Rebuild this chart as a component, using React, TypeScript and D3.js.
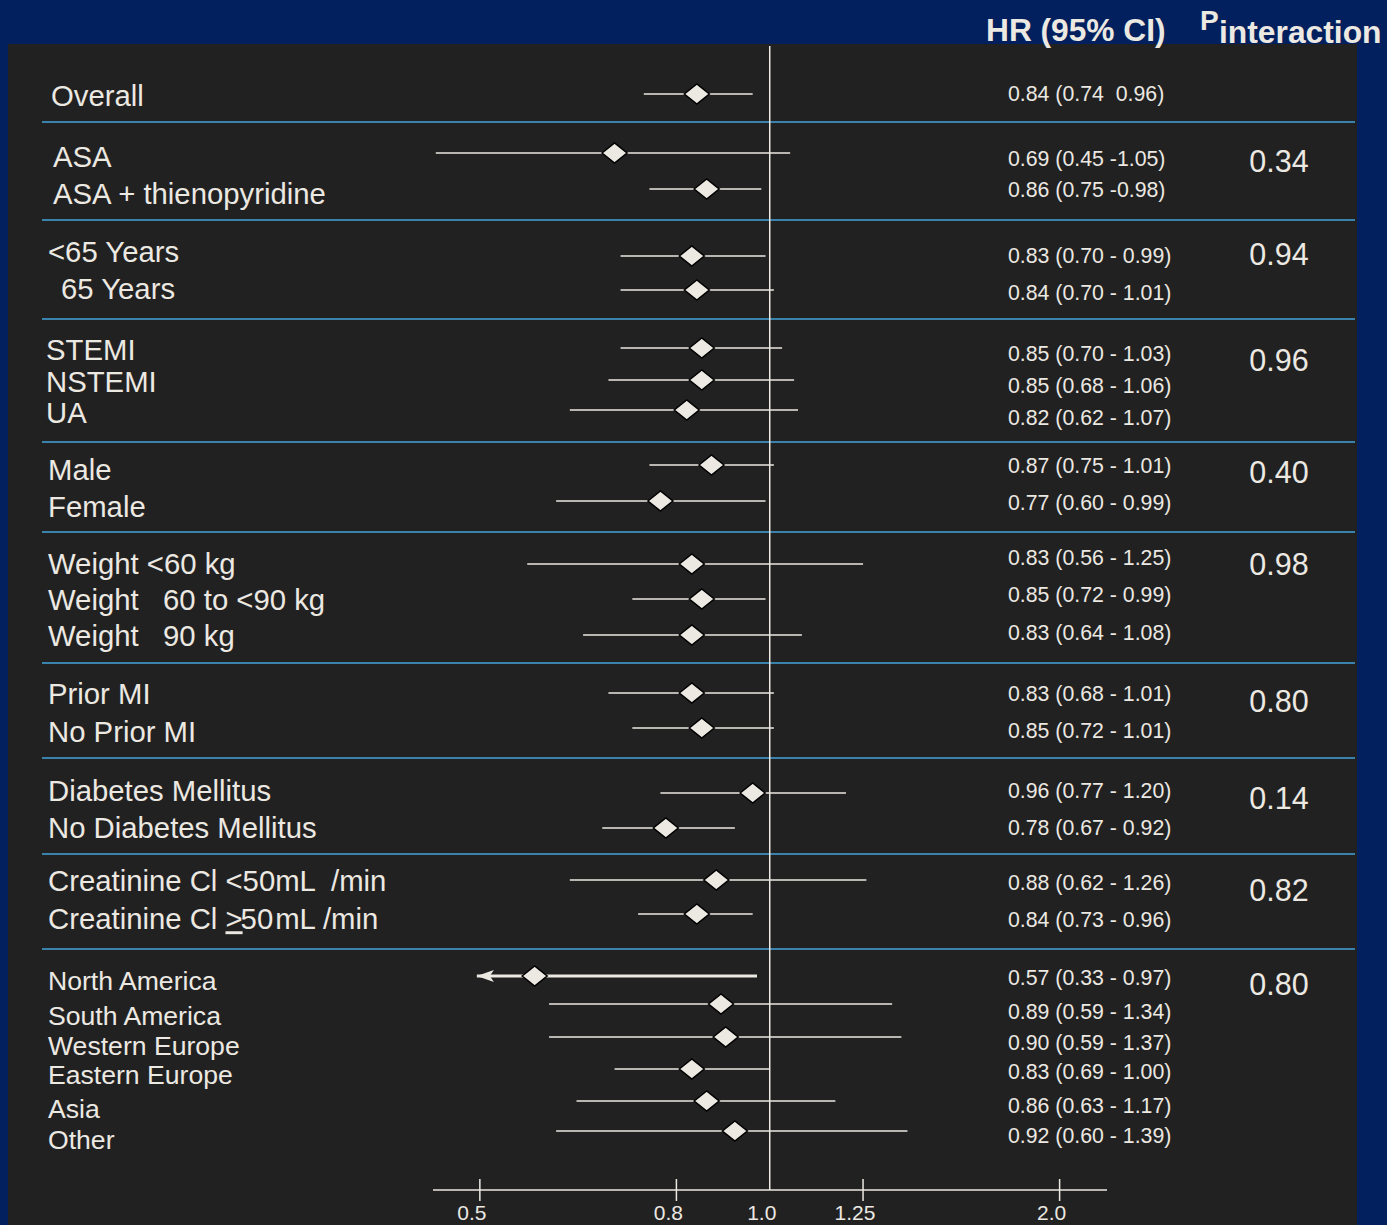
import React from "react";
import * as d3 from "d3";

// ---------- data ----------
const labels = [
  "Overall",
  "ASA",
  "ASA + thienopyridine",
  "<65 Years",
  "65 Years",
  "STEMI",
  "NSTEMI",
  "UA",
  "Male",
  "Female",
  "Weight <60 kg",
  "Weight   60 to <90 kg",
  "Weight   90 kg",
  "Prior MI",
  "No Prior MI",
  "Diabetes Mellitus",
  "No Diabetes Mellitus",
  "Creatinine Cl <50mL  /min",
  "Creatinine Cl ≥50 mL /min",
  "North America",
  "South America",
  "Western Europe",
  "Eastern Europe",
  "Asia",
  "Other",
];
const hr = [0.84, 0.69, 0.86, 0.83, 0.84, 0.85, 0.85, 0.82, 0.87, 0.77, 0.83, 0.85, 0.83, 0.83, 0.85, 0.96, 0.78, 0.88, 0.84, 0.57, 0.89, 0.90, 0.83, 0.86, 0.92];
const lo = [0.74, 0.45, 0.75, 0.70, 0.70, 0.70, 0.68, 0.62, 0.75, 0.60, 0.56, 0.72, 0.64, 0.68, 0.72, 0.77, 0.67, 0.62, 0.73, 0.33, 0.59, 0.59, 0.69, 0.63, 0.60];
const hi = [0.96, 1.05, 0.98, 0.99, 1.01, 1.03, 1.06, 1.07, 1.01, 0.99, 1.25, 0.99, 1.08, 1.01, 1.01, 1.20, 0.92, 1.26, 0.96, 0.97, 1.34, 1.37, 1.00, 1.17, 1.39];
const hrText = [
  "0.84 (0.74  0.96)",
  "0.69 (0.45 -1.05)",
  "0.86 (0.75 -0.98)",
  "0.83 (0.70 - 0.99)",
  "0.84 (0.70 - 1.01)",
  "0.85 (0.70 - 1.03)",
  "0.85 (0.68 - 1.06)",
  "0.82 (0.62 - 1.07)",
  "0.87 (0.75 - 1.01)",
  "0.77 (0.60 - 0.99)",
  "0.83 (0.56 - 1.25)",
  "0.85 (0.72 - 0.99)",
  "0.83 (0.64 - 1.08)",
  "0.83 (0.68 - 1.01)",
  "0.85 (0.72 - 1.01)",
  "0.96 (0.77 - 1.20)",
  "0.78 (0.67 - 0.92)",
  "0.88 (0.62 - 1.26)",
  "0.84 (0.73 - 0.96)",
  "0.57 (0.33 - 0.97)",
  "0.89 (0.59 - 1.34)",
  "0.90 (0.59 - 1.37)",
  "0.83 (0.69 - 1.00)",
  "0.86 (0.63 - 1.17)",
  "0.92 (0.60 - 1.39)",
];
const pValues = ["0.34", "0.94", "0.96", "0.40", "0.98", "0.80", "0.14", "0.82", "0.80"];
const tickValues = [0.5, 0.8, 1.0, 1.25, 2.0];
const tickLabels = ["0.5", "0.8", "1.0", "1.25", "2.0"];
const axisMin = 0.5; // arrow tip for intervals running off the axis
const domain = [0.447, 2.24];

// ---------- layout ----------
const W = 1387;
const H = 1225;
const rowY = [94, 153, 189, 256, 290, 348, 380, 410, 465, 501, 564, 599, 635, 693, 728, 793, 828, 880, 914, 976, 1004, 1037, 1069, 1101, 1131];
const labelY = [96, 157, 194, 252, 289, 350, 382, 413, 470, 507, 564, 600, 636, 694, 732, 791, 828, 881, 919, 981, 1016, 1046, 1075, 1109, 1140];
const textY = [94, 159, 190, 256, 293, 354, 386, 418, 466, 503, 558, 595, 633, 694, 731, 791, 828, 883, 920, 978, 1012, 1043, 1072, 1106, 1136];
const labelX = [51, 53, 53, 48, 61, 46, 46, 46, 48, 48, 48, 48, 48, 48, 48, 48, 48, 48, 48, 48, 48, 48, 48, 48, 48];
const pY = [161, 254, 360, 472, 564, 701, 798, 890, 984];
const sepY = [122, 220, 319, 442, 532, 663, 758, 854, 949];
const axisY = 1190;

const FG = "#ece8e2";
const FONT = "'Liberation Sans', Arial, sans-serif";

export default function App() {
  const x = d3.scaleLog().domain(domain).range([433, 1107]);
  const dHalfW = 12.5;
  const dHalfH = 10;
  const diamond = (cx: number, cy: number) =>
    `M${cx - dHalfW},${cy}L${cx},${cy - dHalfH}L${cx + dHalfW},${cy}L${cx},${cy + dHalfH}Z`;

  return (
    <svg
      width={W}
      height={H}
      style={{ position: "absolute", left: 0, top: 0, display: "block" }}
      fontFamily={FONT}
    >
      <rect x={0} y={0} width={W} height={H} fill="#02205e" />
      <rect x={8} y={44} width={1349} height={H - 44} fill="#212121" />

      {/* header */}
      <text x={986} y={41} fill={FG} fontSize={31.7} fontWeight="bold">
        HR (95% CI)
      </text>
      <text x={1200} y={30} fill={FG} fontSize={28} fontWeight="bold">
        P
      </text>
      <text x={1219} y={43} fill={FG} fontSize={31.8} fontWeight="bold">
        interaction
      </text>

      {/* separators */}
      {sepY.map((y, i) => (
        <line key={"s" + i} x1={42} x2={1355} y1={y} y2={y} stroke="#45a3dc" strokeWidth={1.3} />
      ))}

      {/* reference line */}
      <line x1={x(1)} x2={x(1)} y1={46} y2={axisY} stroke={FG} strokeWidth={1.5} />

      {/* axis */}
      <line x1={x.range()[0]} x2={x.range()[1]} y1={axisY} y2={axisY} stroke={FG} strokeWidth={1.5} />
      {tickValues.map((t, i) => (
        <g key={"t" + i}>
          {t !== 1 && (
            <line x1={x(t)} x2={x(t)} y1={axisY - 11} y2={axisY + 11} stroke={FG} strokeWidth={1.5} />
          )}
          <text x={x(t) - 8} y={1220} fill={FG} fontSize={21} textAnchor="middle">
            {tickLabels[i]}
          </text>
        </g>
      ))}

      {/* rows */}
      {labels.map((lab, i) => {
        const y = rowY[i];
        const clipped = lo[i] < domain[0];
        const x0 = clipped ? x(axisMin) - 3 : x(lo[i]);
        const x1 = x(hi[i]);
        const fs = i >= 19 ? 26.6 : 29.3;
        let labelNode: React.ReactNode = lab;
        if (lab.includes("≥")) {
          labelNode = (
            <>
              <tspan>Creatinine Cl </tspan>
              <tspan textDecoration="underline">&gt;</tspan>
              <tspan dx={-2}>50</tspan>
              <tspan dx={2}>mL /min</tspan>
            </>
          );
        }
        return (
          <g key={"r" + i}>
            <line x1={x0} x2={x1} y1={y} y2={y} stroke={FG} strokeWidth={clipped ? 3 : 1.5} />
            {clipped && (
              <path
                d={`M${x0},${y}L${x0 + 17},${y - 6}L${x0 + 13},${y}L${x0 + 17},${y + 6}Z`}
                fill={FG}
              />
            )}
            <path d={diamond(x(hr[i]), y)} fill={FG} stroke="#000" strokeWidth={1.5} />
            <text
              x={labelX[i]}
              y={labelY[i]}
              dy="0.35em"
              fill={FG}
              fontSize={fs}
              style={{ whiteSpace: "pre" }}
            >
              {labelNode}
            </text>
            <text x={1008} y={textY[i]} dy="0.35em" fill={FG} fontSize={21.3} style={{ whiteSpace: "pre" }}>
              {hrText[i]}
            </text>
          </g>
        );
      })}

      {/* p interaction */}
      {pValues.map((p, i) => (
        <text key={"p" + i} x={1279} y={pY[i]} dy="0.35em" fill={FG} fontSize={30.5} textAnchor="middle">
          {p}
        </text>
      ))}
    </svg>
  );
}
